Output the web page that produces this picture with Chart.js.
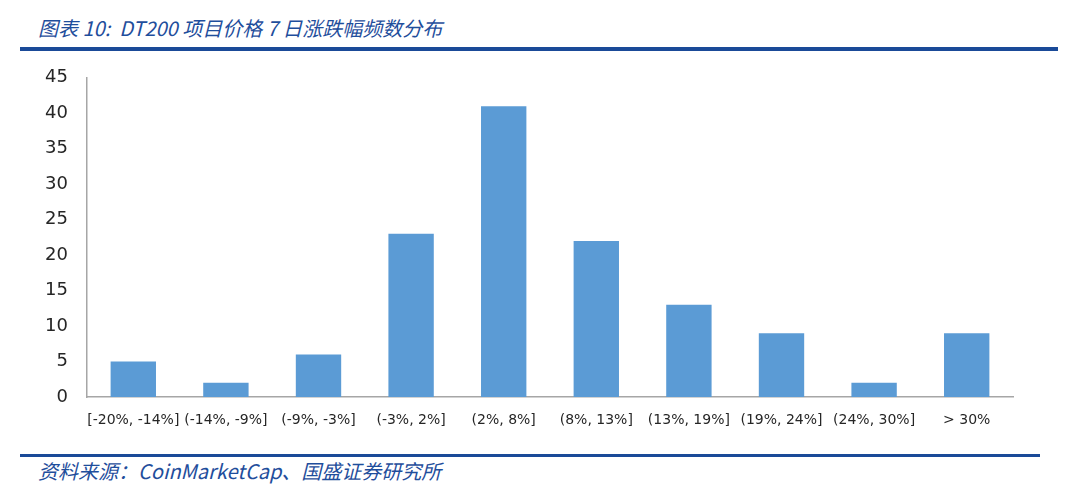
<!doctype html>
<html><head><meta charset="utf-8">
<script src="https://cdn.jsdelivr.net/npm/chart.js"></script>
<style>
  html, body { margin: 0; padding: 0; background: #fff; }
  body { width: 1080px; height: 496px; position: relative; overflow: hidden; }
  .title { position: absolute; left: 38px; top: 13px; font: italic 20px "Noto Sans CJK SC", "DejaVu Sans", sans-serif; color: #1f4e9c; white-space: nowrap; }
  .rule { position: absolute; background: #1a4a98; }
  .source { position: absolute; left: 38px; top: 456px; font: italic 20px "Noto Sans CJK SC", "DejaVu Sans", sans-serif; color: #1f4e9c; white-space: nowrap; }
  .box { position: absolute; left: 0; top: 56px; width: 1080px; height: 384px; }
</style>
</head><body>
  <div class="title">图表 10:&nbsp; DT200 项目价格 7 日涨跌幅频数分布</div>
  <div class="rule" style="left:20px; top:47px; width:1038px; height:4px;"></div>
  <div class="box"><canvas id="c"></canvas></div>
  <div class="rule" style="left:20px; top:454px; width:1020px; height:3px;"></div>
  <div class="source">资料来源：CoinMarketCap、国盛证券研究所</div>
<script>
  // 7-day price change buckets and number of DT200 projects in each
  const categories = ['[-20%, -14%]', '(-14%, -9%]', '(-9%, -3%]', '(-3%, 2%]', '(2%, 8%]',
                      '(8%, 13%]', '(13%, 19%]', '(19%, 24%]', '(24%, 30%]', '> 30%'];
  const counts = [5, 2, 6, 23, 41, 22, 13, 9, 2, 9];
  const yTicks = [0, 5, 10, 15, 20, 25, 30, 35, 40, 45];

  const tickColor = '#262626';
  const axisColor = '#a6a6a6';

  new Chart(document.getElementById('c'), {
    type: 'bar',
    data: {
      labels: categories,
      datasets: [{
        label: '频数',
        data: counts,
        backgroundColor: '#5b9bd5',
        barPercentage: 0.49,
        categoryPercentage: 1
      }]
    },
    options: {
      responsive: true,
      maintainAspectRatio: false,
      animation: false,
      layout: { padding: { top: 0, left: 0, right: 67, bottom: 0 } },
      plugins: { legend: { display: false }, tooltip: { enabled: false } },
      scales: {
        x: {
          grid: { display: false },
          border: { color: axisColor, width: 1.5 },
          ticks: { color: tickColor, font: { family: 'DejaVu Sans', size: 14 }, padding: 7, maxRotation: 0, autoSkip: false },
          afterFit: s => { s.height = 43; }
        },
        y: {
          min: 0, max: 45,
          afterBuildTicks: s => { s.ticks = yTicks.map(v => ({ value: v })); },
          grid: { display: false },
          border: { color: axisColor, width: 1.5 },
          ticks: { color: tickColor, font: { family: 'DejaVu Sans', size: 18 }, padding: 11 },
          afterFit: s => { s.width = 87; }
        }
      }
    }
  });
</script>
</body></html>
